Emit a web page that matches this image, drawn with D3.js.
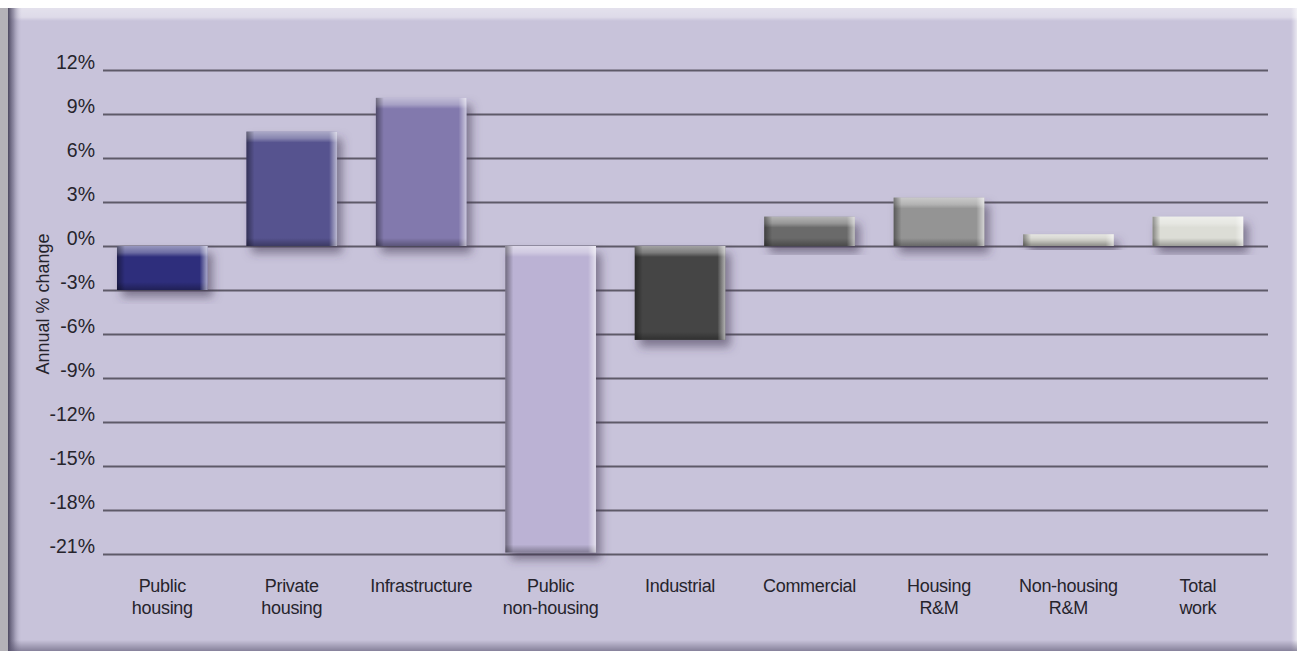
<!DOCTYPE html>
<html>
<head>
<meta charset="utf-8">
<script src="https://cdn.jsdelivr.net/npm/d3@7/dist/d3.min.js"></script>
<style>
  html, body { margin: 0; padding: 0; background: #ffffff; }
  svg { display: block; font-family: "Liberation Sans", Arial, Helvetica, sans-serif; }
</style>
</head>
<body>
<svg id="chart" width="1303" height="651"></svg>
<script>
// Annual % change in construction output by sector
const categories = [
  ["Public", "housing"],
  ["Private", "housing"],
  ["Infrastructure"],
  ["Public", "non-housing"],
  ["Industrial"],
  ["Commercial"],
  ["Housing", "R&M"],
  ["Non-housing", "R&M"],
  ["Total", "work"]
];
const values = [-3.0, 7.8, 10.1, -20.9, -6.4, 2.0, 3.3, 0.8, 2.0];
const colors = ["#2e2d7c", "#57538f", "#8279ad", "#bbb2d4", "#454545", "#6b6b6b", "#949494", "#cacac3", "#dcddd6"];
const tickValues = [12, 9, 6, 3, 0, -3, -6, -9, -12, -15, -18, -21];
const yLabel = "Annual % change";

const W = 1303, H = 651;
const svg = d3.select("#chart");
const defs = svg.append("defs");

// gradient helper
const lg = (id, x1, y1, x2, y2, stops) => {
  const g = defs.append("linearGradient").attr("id", id)
    .attr("x1", x1).attr("y1", y1).attr("x2", x2).attr("y2", y2);
  stops.forEach(s => g.append("stop").attr("offset", s[0]).attr("stop-color", s[1]).attr("stop-opacity", s[2]));
};
lg("panelLeft", 0, 0, 1, 0, [[0, "#3e3a52", 0.9], [0.4, "#6a6580", 0.6], [1, "#c8c3da", 0]]);
lg("panelTop", 0, 0, 0, 1, [[0, "#ffffff", 0.5], [0.7, "#ffffff", 0.4], [1, "#ffffff", 0]]);
lg("panelRight", 1, 0, 0, 0, [[0, "#ffffff", 0.6], [1, "#ffffff", 0]]);
lg("panelBottom", 0, 1, 0, 0, [[0, "#5a5570", 0.6], [1, "#5a5570", 0]]);
lg("hiTop", 0, 0, 0, 1, [[0, "#ffffff", 0.5], [0.6, "#ffffff", 0.3], [1, "#ffffff", 0]]);
lg("loLeft", 0, 0, 1, 0, [[0, "#000000", 0.4], [1, "#000000", 0]]);
lg("hiRight", 1, 0, 0, 0, [[0, "#ffffff", 0.6], [1, "#ffffff", 0]]);
lg("loBottom", 0, 1, 0, 0, [[0, "#000000", 0.3], [1, "#000000", 0]]);

const shadow = defs.append("filter").attr("id", "barShadow")
  .attr("x", "-20%").attr("y", "-20%").attr("width", "150%").attr("height", "150%");
shadow.append("feDropShadow").attr("dx", 5).attr("dy", 7).attr("stdDeviation", 5)
  .attr("flood-color", "#3c3650").attr("flood-opacity", 0.55);

// background panel
svg.append("rect").attr("x", 0).attr("y", 0).attr("width", W).attr("height", H).attr("fill", "#ffffff");
svg.append("rect").attr("x", 0).attr("y", 8).attr("width", 9).attr("height", H - 8).attr("fill", "#b4b2b8");
svg.append("rect").attr("x", 8).attr("y", 8).attr("width", W - 14).attr("height", H - 8).attr("fill", "#c8c3da");
svg.append("rect").attr("x", 8).attr("y", 8).attr("width", W - 14).attr("height", 13).attr("fill", "url(#panelTop)");
svg.append("rect").attr("x", 8).attr("y", 8).attr("width", 14).attr("height", H - 8).attr("fill", "url(#panelLeft)");
svg.append("rect").attr("x", W - 12).attr("y", 8).attr("width", 6).attr("height", H - 8).attr("fill", "url(#panelRight)");
svg.append("rect").attr("x", 8).attr("y", H - 11).attr("width", W - 14).attr("height", 11).attr("fill", "url(#panelBottom)");

// scales
const x = d3.scaleBand().domain(d3.range(values.length)).range([103, 1268])
  .paddingInner(0.3).paddingOuter(0.15).align(0.36);
const y = d3.scaleLinear().domain([-21, 12]).range([554, 70]);

// gridlines via axis
const grid = svg.append("g").attr("transform", "translate(103,0)")
  .call(d3.axisLeft(y).tickValues(tickValues).tickSize(-1165).tickFormat(""));
grid.select(".domain").remove();
grid.selectAll(".tick line").attr("stroke", "#5e5a68").attr("stroke-width", 2.2);

// tick labels
const yAxis = svg.append("g").attr("transform", "translate(95,0)")
  .call(d3.axisLeft(y).tickValues(tickValues).tickSize(0).tickPadding(0).tickFormat(d => d + "%"));
yAxis.select(".domain").remove();
yAxis.selectAll("text").attr("font-size", 19.5).attr("fill", "#26242c")
  .attr("font-family", "Liberation Sans, Arial, sans-serif").attr("dy", "-0.08em");

// axis title
svg.append("text").attr("transform", "translate(49,304) rotate(-90)")
  .attr("text-anchor", "middle").attr("font-size", 18).attr("fill", "#26242c").text(yLabel);

// bars
const bw = x.bandwidth();
const bars = svg.append("g").selectAll("g").data(values).join("g")
  .attr("transform", (d, i) => `translate(${x(i)},${y(Math.max(0, d))})`);
bars.each(function (d, i) {
  const g = d3.select(this);
  const h = Math.abs(y(d) - y(0));
  g.append("rect").attr("width", bw).attr("height", h).attr("fill", colors[i]).attr("filter", "url(#barShadow)");
  const e = Math.min(11, h / 2);
  g.append("rect").attr("width", bw).attr("height", e).attr("fill", "url(#hiTop)");
  g.append("rect").attr("y", h - Math.min(8, h / 2)).attr("width", bw).attr("height", Math.min(8, h / 2)).attr("fill", "url(#loBottom)");
  g.append("rect").attr("width", 8).attr("height", h).attr("fill", "url(#loLeft)");
  g.append("rect").attr("x", bw - 8).attr("width", 8).attr("height", h).attr("fill", "url(#hiRight)");
});

// category labels
const catG = svg.append("g").selectAll("text").data(categories).join("text")
  .attr("x", (d, i) => x(i) + bw / 2).attr("y", 592)
  .attr("text-anchor", "middle").attr("font-size", 18).attr("fill", "#26242c")
  .attr("letter-spacing", -0.3);
catG.selectAll("tspan").data(d => d).join("tspan")
  .attr("x", function () { return d3.select(this.parentNode).attr("x"); })
  .attr("dy", (d, j) => j === 0 ? 0 : 22).text(d => d);
</script>
</body>
</html>
